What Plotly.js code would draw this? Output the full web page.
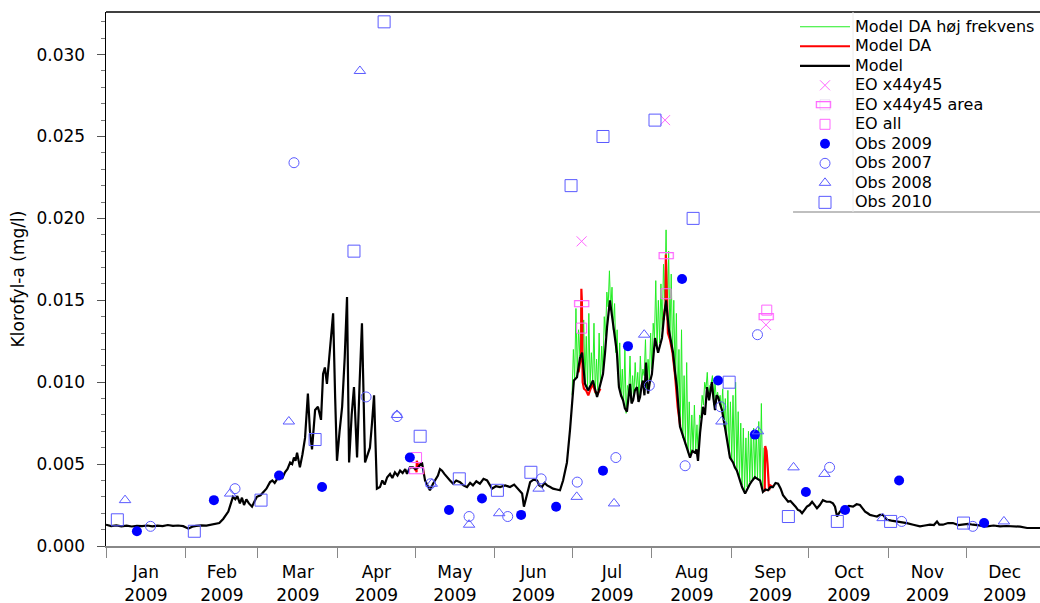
<!DOCTYPE html>
<html>
<head>
<meta charset="utf-8">
<script src="https://cdn.plot.ly/plotly-3.0.1.min.js"></script>
<style>
  html, body { margin: 0; padding: 0; background: #ffffff; }
  #chart { width: 1040px; height: 603px; }
</style>
</head>
<body>
<div id="chart"></div>
<script>
// Days are counted from 1 January 2009 (fractional days allowed); values are chlorophyll-a in mg/l.

// Model run
const modelDay = [0,2,4,6,8,10,12,14,16,18,20,22,24,26,28,30,32,33.5,35,37,39,41,42.5,44,45.5,46.5,47.5,48.5,49.3,50.2,51,52,52.8,53.6,54.5,55.5,56.7,57.6,58.6,60,61,62.3,63.7,64.6,65.5,66.5,67.6,68.5,69.5,70.5,71.5,72.3,73,73.6,74.2,75.3,76.3,77.3,78.4,79.2,80,81.2,82.3,83.5,84.3,85,85.8,86.4,87,88.2,89,89.7,90.7,91.7,92.7,93.6,94.4,95.4,96.3,97.5,98.5,99.4,100.6,101.5,102.5,103.3,104.1,105.2,106.4,107.3,108.2,109.2,110.3,111.2,112.2,113.2,114.2,115.2,116.2,116.9,118,119.2,120.2,121.2,122.7,123.9,125,125.8,127,128,128.9,129.7,130.5,131.4,132.4,133.6,134.8,136,137.5,138.8,140.2,141.4,142.5,143.8,145.2,146.6,148,149.9,151.4,153,155,156.9,158.5,160,161.6,162.3,163.5,164.7,166,167.4,168.3,169.3,170.3,171.3,172.5,173.6,175,176.3,177.5,179,180.2,181,181.7,182.9,184.1,184.9,186,187.2,188,189.1,190.7,191.8,193,193.8,194.6,195.7,196.9,198.4,199.2,200,200.8,201.5,202.3,203,203.5,204.1,204.7,205.4,206.2,206.8,207.4,208,208.5,209.1,209.7,210.5,211.2,212,212.6,213.2,214.4,215.2,215.9,216.7,217.5,218.6,219.4,220.2,221,221.7,222.3,222.9,223.9,224.9,225.8,226.8,227.7,228.7,229.3,229.9,230.7,231.8,232.6,233.4,234.2,235.3,235.9,236.5,237.1,237.7,238.4,239.2,240.2,241.2,242.3,243.5,244.2,245,246,247,248.2,249.1,250.1,251,252,253,254,255.1,256.1,257.1,258,259,260,261,262,262.9,263.9,264.9,265.8,266.8,267.8,268.7,269.5,270.3,271.3,272.2,273.2,274.2,275.2,276.1,277.2,278.4,279.8,281.2,282.3,283.1,283.9,285,286,287,288.5,290.1,291.5,292.8,293.8,294.8,295.8,296.7,298,299.4,300.5,301.7,302.5,303.3,305,307.2,309,311,313.5,316.1,318,320,321.5,322.7,323.6,325,327,328.9,331,332.8,334.8,336.7,339.5,342.1,344.7,347.2,349.7,352.2,355,357.7,360.2,362.7];
const modelVal = [0.00130,0.00122,0.00126,0.00120,0.00124,0.00119,0.00123,0.00121,0.00125,0.00120,0.00124,0.00122,0.00128,0.00123,0.00125,0.00121,0.00106,0.00118,0.00123,0.00126,0.00124,0.00130,0.00132,0.00140,0.00165,0.00185,0.00210,0.00260,0.00300,0.00285,0.00305,0.00260,0.00295,0.00250,0.00285,0.00260,0.00240,0.00270,0.00300,0.00310,0.00330,0.00350,0.00390,0.00400,0.00385,0.00410,0.00420,0.00415,0.00450,0.00470,0.00510,0.00500,0.00540,0.00520,0.00570,0.00480,0.00560,0.00660,0.00930,0.00700,0.00590,0.00830,0.00850,0.00770,0.01050,0.01090,0.00990,0.01100,0.01210,0.01420,0.00900,0.00520,0.00700,0.00850,0.01150,0.01520,0.00510,0.00800,0.00970,0.00540,0.01000,0.01360,0.00510,0.00550,0.00600,0.00750,0.00920,0.00350,0.00360,0.00400,0.00375,0.00420,0.00440,0.00415,0.00450,0.00430,0.00460,0.00445,0.00470,0.00440,0.00480,0.00480,0.00470,0.00480,0.00510,0.00400,0.00370,0.00340,0.00380,0.00410,0.00430,0.00470,0.00460,0.00440,0.00420,0.00400,0.00380,0.00400,0.00390,0.00370,0.00360,0.00385,0.00370,0.00395,0.00380,0.00410,0.00400,0.00350,0.00365,0.00360,0.00370,0.00360,0.00375,0.00350,0.00320,0.00240,0.00320,0.00390,0.00405,0.00400,0.00370,0.00360,0.00385,0.00370,0.00360,0.00350,0.00345,0.00340,0.00400,0.00510,0.00710,0.00890,0.01010,0.01030,0.01150,0.01180,0.00990,0.00950,0.00980,0.01010,0.00910,0.00970,0.01050,0.01180,0.01340,0.01500,0.01360,0.01180,0.00970,0.00920,0.00890,0.00840,0.00820,0.00930,0.00990,0.00870,0.00890,0.00950,0.00970,0.00880,0.00910,0.00980,0.01010,0.00920,0.01120,0.00930,0.01000,0.01050,0.01140,0.01270,0.01180,0.01230,0.01270,0.01400,0.01500,0.01320,0.01260,0.01180,0.01060,0.00970,0.00850,0.00730,0.00680,0.00630,0.00600,0.00540,0.00580,0.00570,0.00590,0.00520,0.00690,0.00850,0.00800,0.00970,0.00890,0.01000,0.00900,0.00830,0.00920,0.00910,0.00870,0.00830,0.00740,0.00650,0.00540,0.00510,0.00480,0.00460,0.00410,0.00360,0.00320,0.00350,0.00380,0.00400,0.00420,0.00410,0.00400,0.00330,0.00345,0.00340,0.00360,0.00360,0.00385,0.00380,0.00350,0.00310,0.00290,0.00270,0.00275,0.00260,0.00240,0.00220,0.00215,0.00200,0.00220,0.00240,0.00250,0.00270,0.00250,0.00230,0.00250,0.00280,0.00270,0.00270,0.00260,0.00240,0.00180,0.00210,0.00225,0.00230,0.00245,0.00240,0.00255,0.00250,0.00230,0.00210,0.00200,0.00190,0.00185,0.00180,0.00190,0.00190,0.00175,0.00160,0.00155,0.00150,0.00145,0.00140,0.00130,0.00120,0.00125,0.00130,0.00128,0.00150,0.00130,0.00130,0.00140,0.00140,0.00128,0.00130,0.00135,0.00130,0.00125,0.00120,0.00125,0.00120,0.00122,0.00120,0.00118,0.00110,0.00112,0.00110];

// Assimilated run (only where it departs from the model); null separates the segments
const daDay = [119.8,120.5,120.6,120.7,121.2,122.0,null,183.5,184.5,184.6,184.8,185.1,185.6,186.4,187.3,188.2,189.0,190.0,191.0,192.0,null,216.5,217.3,217.4,217.7,218.2,219.0,220.0,221.0,222.0,223.0,null,255.5,255.8,256.0,256.5,256.9,257.2,257.5,258.0,259.0];
const daVal = [0.0047,0.0046,0.0045,0.0052,0.0049,0.0050,null,0.0106,0.0116,0.0157,0.0150,0.0100,0.0096,0.0095,0.0092,0.0096,0.0099,0.0094,0.0093,0.0096,null,0.0138,0.0148,0.0178,0.0160,0.0130,0.0126,0.0118,0.0104,0.0085,0.0073,null,0.0034,0.0034,0.0061,0.0058,0.0050,0.0040,0.0034,0.0037,0.0036];

// High-frequency assimilated run: daily low and high (high at mid-day), from day 181
const hfStartDay = 181;
const hfLow = [0.0092,0.0102,0.0105,0.0116,0.0112,0.0100,0.0096,0.0099,0.0100,0.0093,0.0095,0.0098,0.0107,0.0128,0.0146,0.0144,0.0132,0.0118,0.0098,0.0091,0.0086,0.0081,0.0094,0.0088,0.0092,0.0096,0.0090,0.0099,0.0104,0.0096,0.0101,0.0108,0.0127,0.0120,0.0124,0.0132,0.0150,0.0138,0.0127,0.0118,0.0104,0.0084,0.0073,0.0066,0.0062,0.0057,0.0056,0.0058,0.0058,0.0054,0.0078,0.0086,0.0096,0.0090,0.0099,0.0086,0.0090,0.0089,0.0083,0.0073,0.0066,0.0056,0.0052,0.0049,0.0046,0.0041,0.0037,0.0034,0.0036,0.0039,0.0041,0.0042,0.0041,0.0040,0.0035];
const hfHigh = [0.0120,0.0145,0.0132,0.0150,0.0138,0.0128,0.0142,0.0118,0.0136,0.0114,0.0130,0.0122,0.0140,0.0155,0.0168,0.0158,0.0148,0.0132,0.0124,0.0108,0.0120,0.0098,0.0116,0.0104,0.0112,0.0106,0.0116,0.0108,0.0126,0.0114,0.0130,0.0136,0.0162,0.0150,0.0160,0.0172,0.0193,0.0180,0.0166,0.0150,0.0142,0.0120,0.0132,0.0104,0.0112,0.0088,0.0080,0.0086,0.0074,0.0080,0.0092,0.0100,0.0106,0.0098,0.0104,0.0100,0.0094,0.0092,0.0096,0.0090,0.0095,0.0088,0.0092,0.0100,0.0082,0.0075,0.0072,0.0066,0.0070,0.0068,0.0072,0.0070,0.0076,0.0087,0.0060];

// Earth observation estimates
const eoPointDay = [184.7, 217.1, 256.3];
const eoPointVal = [0.0186, 0.0260, 0.0135];
const eoAreaDay = [120.6, 184.7, 217.5, 256.4];
const eoAreaVal = [0.0046, 0.0148, 0.0177, 0.0140];
const eoAllDay = [120.6, 184.7, 217.5, 256.6];
const eoAllVal = [0.0054, 0.0133, 0.0154, 0.0144];

// Station observations
const obs2009Day = [12, 41.9, 67.2, 83.9, 118, 133.2, 146, 161.2, 174.8, 193, 202.7, 223.7, 237.7, 252, 271.8, 287, 308, 341];
const obs2009Val = [0.0009, 0.0028, 0.0043, 0.0036, 0.0054, 0.0022, 0.0029, 0.0019, 0.0024, 0.0046, 0.0122, 0.0163, 0.0101, 0.0068, 0.0033, 0.0022, 0.0040, 0.0014];
const obs2007Day = [17.3, 50.1, 73, 101, 113, 126, 141, 156, 169, 183, 198, 211, 224.9, 238.7, 253, 281, 309, 336.6];
const obs2007Val = [0.0012, 0.0035, 0.0234, 0.0091, 0.0079, 0.0038, 0.0018, 0.0018, 0.0041, 0.0039, 0.0054, 0.0098, 0.0049, 0.0085, 0.0129, 0.0048, 0.0015, 0.0012];
const obs2008Day = [7.4, 48.2, 71, 98.6, 113, 126.5, 141, 152.7, 168, 182.8, 197.3, 209, 239, 253.2, 267, 279, 301.6, 348.7];
const obs2008Val = [0.0028, 0.0032, 0.0076, 0.0290, 0.0080, 0.0038, 0.0013, 0.0020, 0.0035, 0.0030, 0.0026, 0.0129, 0.0076, 0.0070, 0.0048, 0.0044, 0.0017, 0.0015];
const obs2010Day = [4.4, 34.3, 60.2, 81.2, 96.3, 108, 122, 137.2, 152, 165, 180.6, 193, 213.2, 228, 242, 265, 284, 304.7, 333];
const obs2010Val = [0.0016, 0.0009, 0.0028, 0.0065, 0.0180, 0.0320, 0.0067, 0.0041, 0.0034, 0.0045, 0.0220, 0.0250, 0.0260, 0.0200, 0.0100, 0.0018, 0.0015, 0.0015, 0.0014];

// Day offset -> epoch milliseconds for the date axis
const T0 = Date.UTC(2009, 0, 1);
const toDate = d => (d === null ? null : T0 + d * 86400000);

// High-frequency series: low at the start of each day, high at mid-day
const hfX = [], hfY = [];
hfLow.forEach((v, i) => {
  const d = hfStartDay + i;
  hfX.push(toDate(d), toDate(d + 0.5));
  hfY.push(v, hfHigh[i]);
});

const PINK = '#ff66ff';
const LIGHT_BLUE = '#5a5aff';
const AREA_GLYPH = '▭';
const legendName = s => '<span style="font-size:16px">' + s + '</span>';

const traces = [
  { name: legendName('Model DA høj frekvens'), x: hfX, y: hfY, mode: 'lines',
    line: { color: '#22ee22', width: 1 } },
  { name: legendName('Model DA'), x: daDay.map(toDate), y: daVal, mode: 'lines', connectgaps: false,
    line: { color: '#ff0000', width: 2.2 } },
  { name: legendName('Model'), x: modelDay.map(toDate), y: modelVal, mode: 'lines',
    line: { color: '#000000', width: 2.2 } },
  { name: legendName('EO x44y45'), x: eoPointDay.map(toDate), y: eoPointVal, mode: 'markers',
    marker: { symbol: 'x-thin-open', size: 10, line: { color: PINK, width: 1 }, color: PINK } },
  // legend row for the area estimate; its rectangle symbol is drawn as a glyph (annotation below)
  { name: legendName('EO x44y45 area'), x: [null], y: [null], mode: 'markers',
    marker: { symbol: 'square-open', size: 10, opacity: 0 }, legendgroup: 'eoArea' },
  { name: 'EO x44y45 area', x: eoAreaDay.map(toDate), y: eoAreaVal, mode: 'text',
    text: eoAreaDay.map(() => AREA_GLYPH), textposition: 'middle center',
    textfont: { color: PINK, size: 20, family: 'DejaVu Sans' },
    showlegend: false, legendgroup: 'eoArea' },
  { name: legendName('EO all'), x: eoAllDay.map(toDate), y: eoAllVal, mode: 'markers',
    marker: { symbol: 'square-open', size: 10, color: PINK, line: { color: PINK, width: 1 } } },
  { name: legendName('Obs 2009'), x: obs2009Day.map(toDate), y: obs2009Val, mode: 'markers',
    marker: { symbol: 'circle', size: 10, color: '#0000ff', line: { width: 0 } } },
  { name: legendName('Obs 2007'), x: obs2007Day.map(toDate), y: obs2007Val, mode: 'markers',
    marker: { symbol: 'circle-open', size: 10, color: LIGHT_BLUE, line: { color: LIGHT_BLUE, width: 1 } } },
  { name: legendName('Obs 2008'), x: obs2008Day.map(toDate), y: obs2008Val, mode: 'markers',
    marker: { symbol: 'triangle-up-open', size: 10, color: LIGHT_BLUE, line: { color: LIGHT_BLUE, width: 1 } } },
  { name: legendName('Obs 2010'), x: obs2010Day.map(toDate), y: obs2010Val, mode: 'markers',
    marker: { symbol: 'square-open', size: 12, color: LIGHT_BLUE, line: { color: LIGHT_BLUE, width: 1 } } }
];

const layout = {
  width: 1040, height: 603,
  margin: { l: 106, r: 0, t: 12, b: 57 },
  paper_bgcolor: '#ffffff', plot_bgcolor: '#ffffff',
  font: { family: 'DejaVu Sans, Verdana, sans-serif', size: 17, color: '#000000' },
  showlegend: true,
  legend: {
    x: 1, xanchor: 'right', y: 1, yanchor: 'top',
    bgcolor: 'rgba(255,255,255,0)', borderwidth: 0,
    font: { size: 12.7, color: '#000000' },
    itemwidth: 50, tracegroupgap: 0
  },
  xaxis: {
    type: 'date', range: ['2009-01-01', '2009-12-29 17:00'],
    tick0: '2009-01-01', dtick: 'M1', ticklabelmode: 'period', tickformat: '%b<br>%Y',
    ticks: 'outside', ticklen: 10, tickwidth: 1, tickcolor: '#888888',
    showline: true, linecolor: '#888888', linewidth: 2,
    showgrid: false, zeroline: false,
    tickfont: { size: 17, color: '#000000' }
  },
  yaxis: {
    range: [0, 0.0326], dtick: 0.005, tick0: 0, tickformat: '.3f',
    ticks: 'outside', ticklen: 8, tickwidth: 1, tickcolor: '#555555',
    minor: { dtick: 0.001, ticks: 'outside', ticklen: 4, tickcolor: '#777777' },
    ticklabelstandoff: 8,
    showline: true, linecolor: '#000000', linewidth: 1.5,
    showgrid: false, zeroline: false,
    tickfont: { size: 17, color: '#000000' },
    title: { text: 'Klorofyl-a (mg/l)', font: { size: 17 }, standoff: 7 }
  },
  shapes: [
    // frame line along the top of the plot
    { type: 'line', xref: 'paper', yref: 'paper', x0: 0, x1: 1, y0: 1, y1: 1,
      line: { color: '#000000', width: 1.5 } },
    // rule under the legend
    { type: 'line', xref: 'paper', yref: 'paper', x0: 0.7356, x1: 1, y0: 0.6255, y1: 0.6255,
      line: { color: '#aaaaaa', width: 1.5 } },
    // faint divider between legend symbols and labels
    { type: 'line', xref: 'paper', yref: 'paper', x0: 0.7998, x1: 0.7998, y0: 0.6255, y1: 1,
      line: { color: '#ececec', width: 1 } }
  ],
  annotations: [
    // rectangle symbol for the "EO x44y45 area" legend row
    { xref: 'paper', yref: 'paper', x: 0.7687, y: 0.8287, xanchor: 'center', yanchor: 'middle',
      text: AREA_GLYPH, showarrow: false, font: { color: PINK, size: 20, family: 'DejaVu Sans' } }
  ]
};

Plotly.newPlot('chart', traces, layout, { displayModeBar: false, staticPlot: true });
</script>
</body>
</html>
